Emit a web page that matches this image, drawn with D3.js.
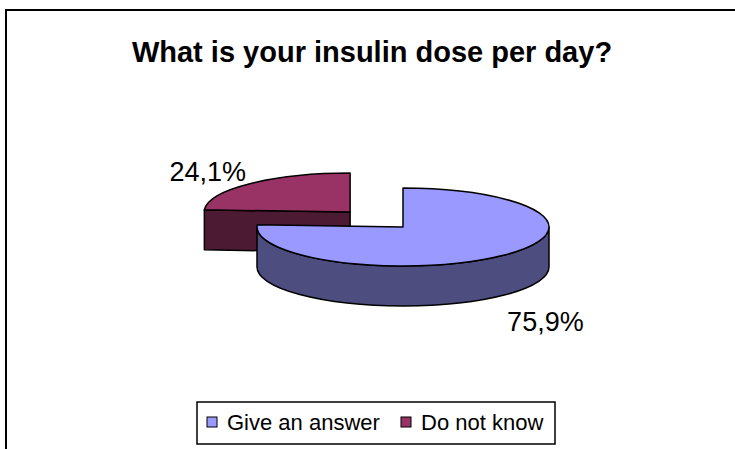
<!DOCTYPE html>
<html>
<head>
<meta charset="utf-8">
<script src="https://cdn.jsdelivr.net/npm/d3@7"></script>
<style>
  html, body { margin: 0; padding: 0; background: #fff; }
  svg { display: block; font-family: "Liberation Sans", Arial, sans-serif; }
</style>
</head>
<body>
<div class="graph-container"></div>
<script>
// chart data
const title = 'What is your insulin dose per day?';
const categories = ['Give an answer', 'Do not know'];
const values = [75.9, 24.1];
const labels = ['75,9%', '24,1%'];

const topColors = ['#9999ff', '#993366'];
const sideColors = ['#4d4d80', '#4d1a33'];
const explode = [0, 77];

const [width, height] = [735, 449];
const [cx, cy] = [403, 227];
const [rx, ry, depth] = [146, 39, 40];

const svg = d3.select('div.graph-container')
    .append('svg')
    .attr('width', width)
    .attr('height', height);

// outer chart border
svg.append('rect')
    .attr('x', 6).attr('y', 10)
    .attr('width', 760).attr('height', 460)
    .attr('fill', '#fff')
    .attr('stroke', '#000')
    .attr('stroke-width', 2);

svg.append('text')
    .attr('x', 372).attr('y', 62)
    .attr('text-anchor', 'middle')
    .attr('font-size', 29)
    .attr('font-weight', 'bold')
    .text(title);

const arcs = d3.pie().sort(null)(values);

// projected point on the ellipse, angle clockwise from 12 o'clock
const pt = (c, a, dz = 0) => [c[0] + rx * Math.sin(a), c[1] - ry * Math.cos(a) + dz];

const arcTo = (p, sweep, large) => `A${rx},${ry} 0 ${large} ${sweep} ${p[0]},${p[1]}`;

const slices = arcs.map((d, i) => {
    const mid = (d.startAngle + d.endAngle) / 2;
    const c = [cx + explode[i] * Math.sin(mid), cy - explode[i] * (ry / rx) * Math.cos(mid)];
    return { ...d, i, mid, c };
});

// draw back slices first
const order = slices.slice().sort((a, b) => Math.cos(b.mid) - Math.cos(a.mid));
const pie = svg.append('g').attr('stroke', '#000').attr('stroke-width', 1.5).attr('stroke-linejoin', 'round');

order.forEach(s => {
    const g = pie.append('g');
    const { c, startAngle: a0, endAngle: a1 } = s;
    const faces = [];
    if (Math.sin(a0) < -1e-6) faces.push(a0);
    if (Math.sin(a1) > 1e-6) faces.push(a1);
    faces.forEach(a => {
        const p = pt(c, a);
        g.append('path')
            .attr('d', `M${c[0]},${c[1]} L${p[0]},${p[1]} L${p[0]},${p[1] + depth} L${c[0]},${c[1] + depth} Z`)
            .attr('fill', sideColors[s.i]);
    });
    // outer wall, front half only
    const w0 = Math.max(a0, Math.PI / 2), w1 = Math.min(a1, 3 * Math.PI / 2);
    if (w1 > w0) {
        const p0 = pt(c, w0), p1 = pt(c, w1);
        const b0 = pt(c, w0, depth), b1 = pt(c, w1, depth);
        g.append('path')
            .attr('d', `M${p0} ${arcTo(p1, 1, 0)} L${b1} ${arcTo(b0, 0, 0)} Z`)
            .attr('fill', sideColors[s.i]);
    }
    const p0 = pt(c, a0), p1 = pt(c, a1);
    g.append('path')
        .attr('d', `M${c} L${p0} ${arcTo(p1, 1, a1 - a0 > Math.PI ? 1 : 0)} Z`)
        .attr('fill', topColors[s.i]);
});

// data labels
const labelR = 1.42;
slices.forEach(s => {
    const front = Math.cos(s.mid) < 0;
    const x = s.c[0] + rx * labelR * Math.sin(s.mid);
    const y = s.c[1] - ry * labelR * Math.cos(s.mid) + (front ? depth + 14 : 0);
    svg.append('text')
        .attr('x', x).attr('y', y)
        .attr('dy', '0.35em')
        .attr('text-anchor', 'middle')
        .attr('font-size', 27)
        .text(labels[s.i]);
});

// legend
const legend = svg.append('g').attr('transform', 'translate(197,402)');
legend.append('rect')
    .attr('width', 358).attr('height', 42)
    .attr('fill', '#fff').attr('stroke', '#000').attr('stroke-width', 1.5);
const legendX = d3.scaleOrdinal().domain(categories).range([10, 204]);
const item = legend.selectAll('g.item')
    .data(categories)
    .enter().append('g')
    .attr('class', 'item')
    .attr('transform', d => `translate(${legendX(d)},15)`);
item.append('rect')
    .attr('width', 10).attr('height', 10)
    .attr('fill', (d, i) => topColors[i])
    .attr('stroke', '#000').attr('stroke-width', 1);
item.append('text')
    .attr('x', 20).attr('y', 13)
    .attr('font-size', 22)
    .text(d => d);
</script>
</body>
</html>
